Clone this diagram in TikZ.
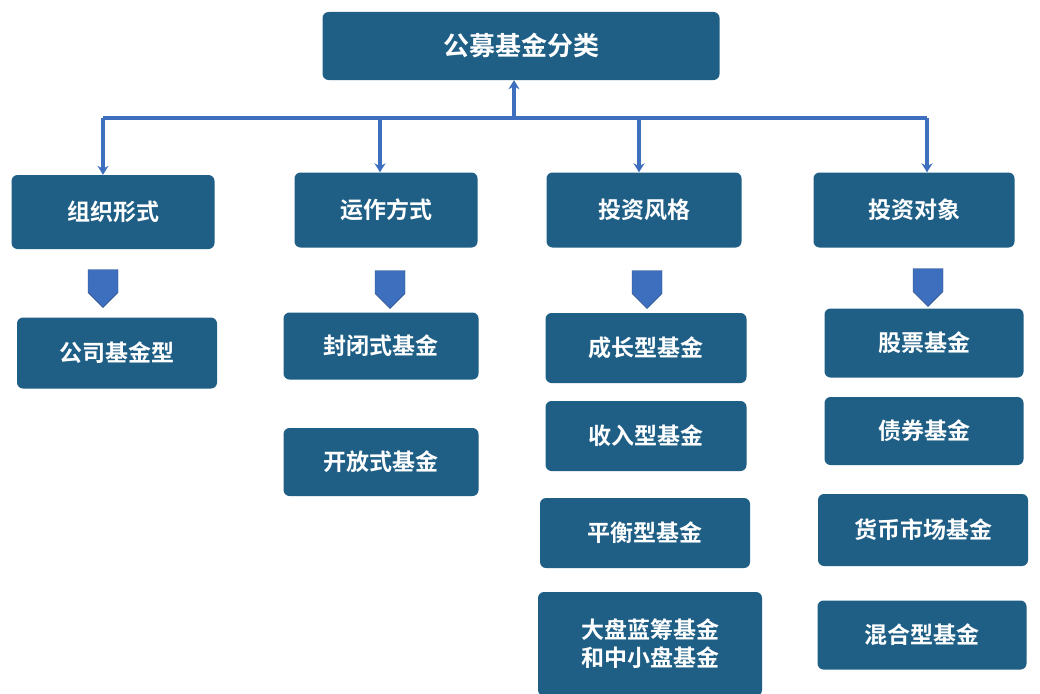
\documentclass[tikz,border=0pt]{standalone}
\usepackage{fontspec}
\setmainfont{Noto Sans CJK SC Bold}
\usetikzlibrary{arrows.meta,shapes.arrows}
\definecolor{boxblue}{HTML}{1F5F86}
\definecolor{lineblue}{HTML}{3E6FBF}

\begin{document}
\begin{tikzpicture}[
  x=1pt,y=-1pt,>=Stealth,
  every node/.style={font=\fontsize{23}{28}\selectfont},
  fund/.style={fill=boxblue,rounded corners=6pt,text=white,align=center,inner sep=0pt},
  link/.style={draw=lineblue,line width=3.5pt,arrows={-Stealth[length=9pt,width=11pt]}},
  blockarrow/.style={single arrow,fill=lineblue,draw=lineblue!70!black,line width=0.4pt,
    minimum height=38pt,minimum width=30pt,single arrow head extend=0pt,
    single arrow tip angle=90,shape border rotate=270,inner sep=4pt}
]
  \useasboundingbox (0,0) rectangle (1040,693);
  \fill[white] (0,0) rectangle (1040,693);

  % Root
  \node[fund,minimum width=397pt,minimum height=68pt,font=\fontsize{26}{30}\selectfont] (root) at (521,46) {公募基金分类};

  % Categories
  \node[fund,minimum width=203pt,minimum height=74pt] (org) at (113,212) {组织形式};
  \node[fund,minimum width=183pt,minimum height=75pt] (ops) at (386,210) {运作方式};
  \node[fund,minimum width=195pt,minimum height=75pt] (sty) at (644,210) {投资风格};
  \node[fund,minimum width=201pt,minimum height=75pt] (obj) at (914,210) {投资对象};

  % Bar and drops
  \coordinate (barL) at (103,118);
  \coordinate (barR) at (927,118);
  \coordinate (barM) at (514,118);
  \coordinate (barO) at (380,118);
  \coordinate (barS) at (639,118);
  \draw[draw=lineblue,line width=3.5pt] (barL) -- (barR);
  \draw[link] (barM) -- (root.south -| barM);
  \draw[link] (barL) -- (org.north -| barL);
  \draw[link] (barO) -- (ops.north -| barO);
  \draw[link] (barS) -- (sty.north -| barS);
  \draw[link] (barR) -- (obj.north -| barR);

  % Block arrows
  \node[blockarrow] (aorg) at (103,281) {};
  \node[blockarrow] (aops) at (390,282) {};
  \node[blockarrow] (asty) at (647,282) {};
  \node[blockarrow] (aobj) at (928,280) {};

  % Leaves
  \node[fund,minimum width=200pt,minimum height=71pt] (corp) at (117,353) {公司基金型};
  \node[fund,minimum width=195pt,minimum height=67pt] (closed) at (381,346) {封闭式基金};
  \node[fund,minimum width=195pt,minimum height=68pt] (open) at (381,462) {开放式基金};
  \node[fund,minimum width=201pt,minimum height=70pt] (growth) at (646,348) {成长型基金};
  \node[fund,minimum width=201pt,minimum height=70pt] (income) at (646,436) {收入型基金};
  \node[fund,minimum width=210pt,minimum height=70pt] (balance) at (645,533) {平衡型基金};
  \node[fund,minimum width=224pt,minimum height=104pt] (cap) at (650,644) {大盘蓝筹基金\\和中小盘基金};
  \node[fund,minimum width=199pt,minimum height=69pt] (stock) at (924,343) {股票基金};
  \node[fund,minimum width=199pt,minimum height=68pt] (bond) at (924,431) {债券基金};
  \node[fund,minimum width=210pt,minimum height=72pt] (money) at (923,530) {货币市场基金};
  \node[fund,minimum width=209pt,minimum height=69pt] (mixed) at (922,635) {混合型基金};
\end{tikzpicture}
\end{document}
